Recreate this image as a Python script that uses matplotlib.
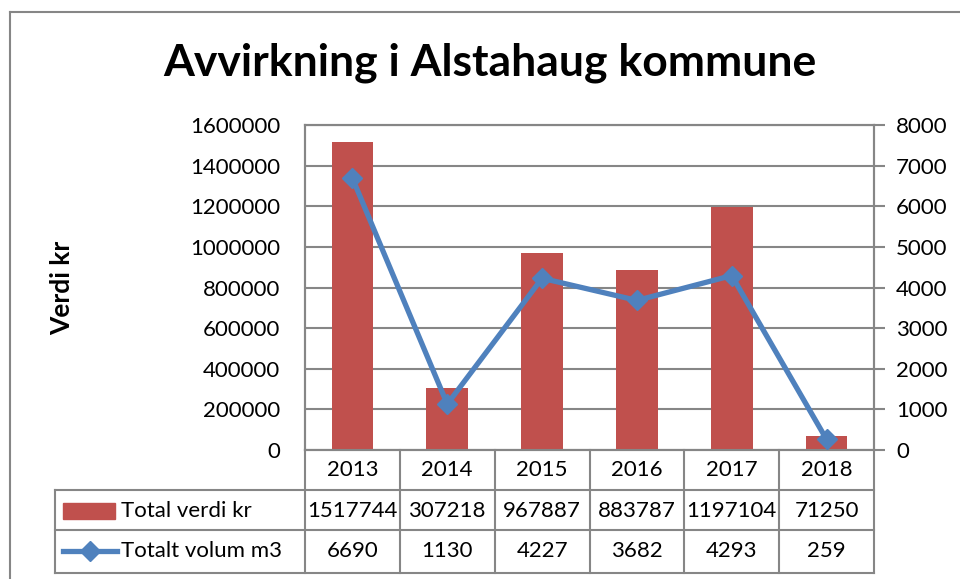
import matplotlib
matplotlib.use("Agg")
import matplotlib.pyplot as plt
from matplotlib.transforms import blended_transform_factory
from matplotlib.lines import Line2D
from matplotlib.patches import Rectangle
from matplotlib.ticker import FuncFormatter

years = ["2013", "2014", "2015", "2016", "2017", "2018"]
verdi = [1517744, 307218, 967887, 883787, 1197104, 71250]
volum = [6690, 1130, 4227, 3682, 4293, 259]
series_names = ["Total verdi kr", "Totalt volum m3"]
title = "Avvirkning i Alstahaug kommune"
ylabel = "Verdi kr"

FONT = "Lato"
plt.rcParams["font.family"] = [FONT, "DejaVu Sans"]
W, H = 960, 579
fig = plt.figure(figsize=(W / 100, H / 100), dpi=100)

def fx(px):
    return px / W

def fy(py):
    return 1 - py / H

grey = "#868686"
red = "#C0504D"
blue = "#4F81BD"
fs = 16

# figure border
fig.add_artist(Line2D([fx(10), fx(10)], [fy(12), fy(579)], color=grey, lw=1.5, transform=fig.transFigure))
fig.add_artist(Line2D([fx(10), fx(960)], [fy(12), fy(12)], color=grey, lw=1.5, transform=fig.transFigure))

L, R, T, B = 305, 874, 125, 450
ax = fig.add_axes([fx(L), fy(B), fx(R) - fx(L), fy(T) - fy(B)])
x = list(range(len(years)))
ax.bar(x, verdi, width=0.44, color=red, zorder=3)
ax.set_xlim(-0.5, len(years) - 0.5)
ax.set_ylim(0, 1600000)
ax.set_yticks(range(0, 1600001, 200000))
ax.yaxis.set_major_formatter(FuncFormatter(lambda v, p: f"{int(v)}"))
ax.grid(axis="y", color=grey, lw=1.5, zorder=0)
ax.set_xticks([])
ax.tick_params(axis="y", length=0, labelsize=fs, pad=18)
for s in ax.spines.values():
    s.set_color(grey)
    s.set_linewidth(1.5)

ax2 = ax.twinx()
ax2.plot(x, volum, color=blue, lw=3.8, marker="D", markersize=10, zorder=4)
ax2.set_ylim(0, 8000)
ax2.set_yticks(range(0, 8001, 1000))
ax2.tick_params(axis="y", length=8, width=1.5, color=grey, labelsize=fs, pad=8)
for s in ax2.spines.values():
    s.set_color(grey)
    s.set_linewidth(1.5)

fig.text(fx(62), fy(288), ylabel, rotation=90, fontsize=19, fontweight="bold",
         ha="center", va="center")

fig.text(0.5 * (fx(163) + fx(817)), fy(63), title, fontsize=32, fontweight="bold", ha="center", va="center")

# data table
tr = blended_transform_factory(ax.transData, fig.transFigure)
rows_y = [B, 490, 530, 573]
edges = [i - 0.5 for i in range(len(years) + 1)]
for e in edges:
    fig.add_artist(Line2D([e, e], [fy(B), fy(573)], color=grey, lw=1.5, transform=tr))
fig.add_artist(Line2D([fx(55), fx(55)], [fy(490), fy(573)], color=grey, lw=1.5, transform=fig.transFigure))
for yy in rows_y[1:]:
    fig.add_artist(Line2D([fx(55), fx(R)], [fy(yy), fy(yy)], color=grey, lw=1.5, transform=fig.transFigure))

for i, yr in enumerate(years):
    fig.text(i, fy(470), yr, transform=tr, ha="center", va="center", fontsize=fs)
    fig.text(i, fy(511), str(verdi[i]), transform=tr, ha="center", va="center", fontsize=fs)
    fig.text(i, fy(551), str(volum[i]), transform=tr, ha="center", va="center", fontsize=fs)

fig.add_artist(Rectangle((fx(63), fy(519)), fx(115) - fx(63), fy(503) - fy(519), color=red,
                         transform=fig.transFigure))
fig.add_artist(Line2D([fx(63), fx(117)], [fy(551), fy(551)], color=blue, lw=3.8,
                      transform=fig.transFigure))
fig.add_artist(Line2D([fx(90)], [fy(551)], color=blue, marker="D", markersize=10, transform=fig.transFigure))
fig.text(fx(121), fy(511), series_names[0], ha="left", va="center", fontsize=fs)
fig.text(fx(121), fy(551), series_names[1], ha="left", va="center", fontsize=fs)

fig.savefig("out.png", dpi=100)
